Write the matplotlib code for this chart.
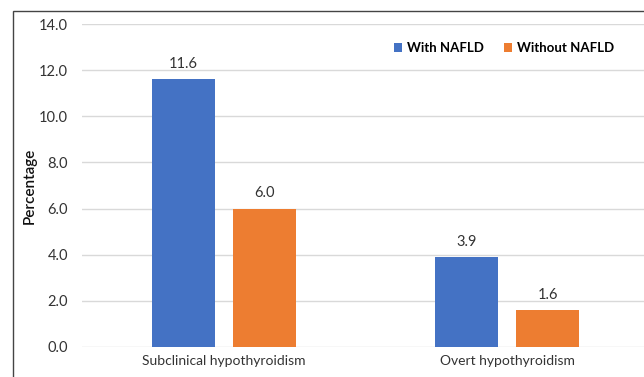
import matplotlib.pyplot as plt
import numpy as np
from matplotlib.patches import Rectangle

categories = ['Subclinical hypothyroidism', 'Overt hypothyroidism']
with_nafld = [11.6, 3.9]
without_nafld = [6.0, 1.6]
series_names = ['With NAFLD', 'Without NAFLD']
yticks = [0, 2, 4, 6, 8, 10, 12, 14]

plt.rcParams['font.family'] = ['Lato', 'DejaVu Sans']

fig = plt.figure(figsize=(6.44, 3.77), dpi=100)
ax = fig.add_axes([82 / 644, 30 / 377, 567 / 644, 323 / 377])

x = np.arange(len(categories))
w = 0.223
off = 0.143
b1 = ax.bar(x - off, with_nafld, w, color='#4472C4', label=series_names[0], zorder=3)
b2 = ax.bar(x + off, without_nafld, w, color='#ED7D31', label=series_names[1], zorder=3)

for bars in (b1, b2):
    for r in bars:
        ax.text(r.get_x() + r.get_width() / 2, r.get_height() + 0.35, f'{r.get_height():.1f}',
                ha='center', va='bottom', fontsize=10.5, color='#333333')

ax.set_xlim(-0.5, 1.5)
ax.set_ylim(0, 14)
ax.set_yticks(yticks)
ax.set_yticklabels([f'{v:.1f}' for v in yticks])
ax.set_xticks(x)
ax.set_xticklabels(categories)
ax.tick_params(axis='y', length=0, pad=10, labelsize=10.5, colors='#333333')
ax.tick_params(axis='x', length=0, pad=6, labelsize=10, colors='#333333')
ax.yaxis.grid(True, color='#d9d9d9', linewidth=1, zorder=0)
for s in ax.spines.values():
    s.set_visible(False)
ax.set_ylabel('Percentage', fontsize=11, color='#111111', labelpad=2, fontweight='semibold')

leg = ax.legend(loc='upper right', bbox_to_anchor=(0.96, 0.98), ncol=2, frameon=False,
                handlelength=0.6, handleheight=0.6, handletextpad=0.4, columnspacing=1.5,
                prop={'weight': 'bold', 'size': 9.5})

fig.patches.append(Rectangle((13 / 644, -0.1), 1.2, (377 - 11) / 377 + 0.1, transform=fig.transFigure,
                             fill=False, edgecolor='#444444', linewidth=1.0))

fig.savefig('out.png', dpi=100)
